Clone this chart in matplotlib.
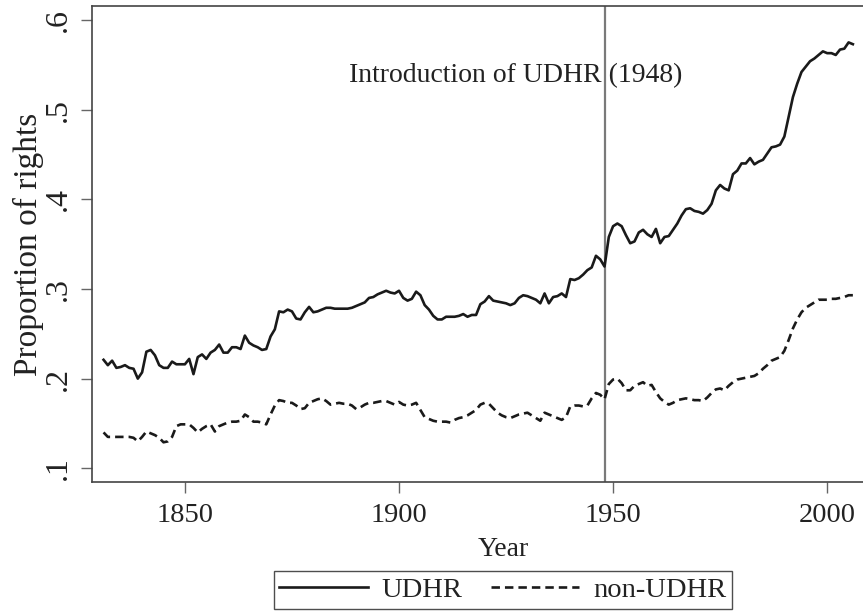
import matplotlib
matplotlib.use("Agg")
import matplotlib.pyplot as plt
from matplotlib.ticker import FuncFormatter

years = list(range(1831, 2007))

udhr = [
    0.221, 0.215, 0.220, 0.212, 0.213, 0.215, 0.212, 0.211, 0.200, 0.207,  # 1831-1840
    0.230, 0.232, 0.226, 0.215, 0.212, 0.212, 0.219, 0.216, 0.216, 0.216,  # 1841-1850
    0.222, 0.205, 0.224, 0.227, 0.222, 0.229, 0.232, 0.238, 0.229, 0.229,  # 1851-1860
    0.235, 0.235, 0.233, 0.248, 0.240, 0.237, 0.235, 0.232, 0.233, 0.247,  # 1861-1870
    0.255, 0.275, 0.274, 0.277, 0.275, 0.267, 0.266, 0.274, 0.280, 0.274,  # 1871-1880
    0.275, 0.277, 0.279, 0.279, 0.278, 0.278, 0.278, 0.278, 0.279, 0.281,  # 1881-1890
    0.283, 0.285, 0.290, 0.291, 0.294, 0.296, 0.298, 0.296, 0.295, 0.298,  # 1891-1900
    0.290, 0.287, 0.289, 0.297, 0.293, 0.282, 0.277, 0.270, 0.266, 0.266,  # 1901-1910
    0.269, 0.269, 0.269, 0.270, 0.272, 0.269, 0.271, 0.271, 0.283, 0.286,  # 1911-1920
    0.292, 0.287, 0.286, 0.285, 0.284, 0.282, 0.284, 0.290, 0.293, 0.292,  # 1921-1930
    0.290, 0.288, 0.284, 0.295, 0.284, 0.291, 0.292, 0.295, 0.291, 0.311,  # 1931-1940
    0.310, 0.312, 0.316, 0.321, 0.324, 0.337, 0.333, 0.325, 0.358, 0.370,  # 1941-1950
    0.373, 0.370, 0.360, 0.351, 0.353, 0.363, 0.366, 0.361, 0.358, 0.367,  # 1951-1960
    0.351, 0.358, 0.359, 0.366, 0.373, 0.382, 0.389, 0.390, 0.387, 0.386,  # 1961-1970
    0.384, 0.388, 0.395, 0.410, 0.416, 0.412, 0.410, 0.428, 0.432, 0.440,  # 1971-1980
    0.440, 0.446, 0.439, 0.442, 0.444, 0.451, 0.458, 0.459, 0.461, 0.470,  # 1981-1990
    0.492, 0.514, 0.529, 0.542, 0.548, 0.554, 0.557, 0.561, 0.565, 0.563,  # 1991-2000
    0.563, 0.561, 0.567, 0.568, 0.575, 0.573,                              # 2001-2006
]

non_udhr = [
    0.140, 0.135, 0.135, 0.135, 0.135, 0.135, 0.135, 0.134, 0.130, 0.135,  # 1831-1840
    0.141, 0.139, 0.137, 0.134, 0.129, 0.130, 0.135, 0.147, 0.149, 0.149,  # 1841-1850
    0.149, 0.145, 0.140, 0.144, 0.147, 0.149, 0.141, 0.147, 0.149, 0.151,  # 1851-1860
    0.152, 0.152, 0.153, 0.160, 0.157, 0.152, 0.152, 0.151, 0.149, 0.160,  # 1861-1870
    0.170, 0.176, 0.175, 0.173, 0.173, 0.170, 0.166, 0.167, 0.173, 0.175,  # 1871-1880
    0.177, 0.178, 0.175, 0.171, 0.172, 0.173, 0.172, 0.172, 0.170, 0.166,  # 1881-1890
    0.168, 0.171, 0.173, 0.173, 0.174, 0.175, 0.175, 0.173, 0.171, 0.174,  # 1891-1900
    0.171, 0.170, 0.171, 0.173, 0.165, 0.157, 0.155, 0.153, 0.152, 0.152,  # 1901-1910
    0.152, 0.151, 0.154, 0.156, 0.157, 0.159, 0.162, 0.165, 0.171, 0.173,  # 1911-1920
    0.172, 0.167, 0.162, 0.159, 0.157, 0.156, 0.158, 0.160, 0.161, 0.162,  # 1921-1930
    0.159, 0.156, 0.153, 0.162, 0.160, 0.158, 0.156, 0.154, 0.157, 0.169,  # 1931-1940
    0.170, 0.170, 0.169, 0.170, 0.178, 0.184, 0.182, 0.177, 0.194, 0.199,  # 1941-1950
    0.200, 0.195, 0.187, 0.187, 0.192, 0.194, 0.196, 0.192, 0.193, 0.185,  # 1951-1960
    0.178, 0.174, 0.171, 0.173, 0.176, 0.177, 0.178, 0.177, 0.176, 0.176,  # 1961-1970
    0.175, 0.179, 0.184, 0.188, 0.189, 0.187, 0.192, 0.196, 0.199, 0.200,  # 1971-1980
    0.201, 0.202, 0.203, 0.206, 0.211, 0.215, 0.220, 0.222, 0.224, 0.231,  # 1981-1990
    0.243, 0.256, 0.266, 0.274, 0.279, 0.282, 0.285, 0.288, 0.288, 0.288,  # 1991-2000
    0.289, 0.289, 0.290, 0.291, 0.293, 0.293,                              # 2001-2006
]

xticks = [1850, 1900, 1950, 2000]
yticks = [0.1, 0.2, 0.3, 0.4, 0.5, 0.6]
udhr_year = 1948
annotation = "Introduction of UDHR (1948)"

plt.rcParams['font.family'] = ['Liberation Serif', 'DejaVu Serif']

W, H = 863, 615
fig = plt.figure(figsize=(W / 100, H / 100), dpi=100)
left, right, top, bottom = 92, 864, 6, 482
ax = fig.add_axes([left / W, 1 - bottom / H, (right - left) / W, (bottom - top) / H])

ax.plot(years, udhr, color='#1a1a1a', lw=1.9, solid_joinstyle='round', label='UDHR')
ax.plot(years, non_udhr, color='#1a1a1a', lw=1.9, dashes=(3.2, 1.9), label='non-UDHR')
ax.axvline(udhr_year, color='#7a7a7a', lw=1.6, zorder=1)

ax.set_xlim(1828.3, 2008.6)
ax.set_ylim(0.0847, 0.6156)

ax.set_xticks(xticks)
ax.set_yticks(yticks)
ax.yaxis.set_major_formatter(FuncFormatter(lambda v, p: ('%.1f' % v).lstrip('0')))
ax.tick_params(axis='both', direction='out', length=8, width=1.0, color='#666666',
               pad=7, labelcolor='#222222')
ax.tick_params(axis='x', labelsize=20.5)
ax.tick_params(axis='y', labelsize=23, pad=6)
for lbl in ax.get_yticklabels():
    lbl.set_rotation(90)
    lbl.set_va('center')

for s in ['left', 'bottom', 'top']:
    ax.spines[s].set_color('#444444')
    ax.spines[s].set_linewidth(1.2)
ax.spines['right'].set_visible(False)

ax.set_xlabel('Year', fontsize=20, color='#222222')
ax.xaxis.set_label_coords((503 - left) / (right - left), -(549 - bottom) / (bottom - top))
ax.xaxis.label.set_va('center')
ax.set_ylabel('Proportion of rights', fontsize=24, color='#222222')
ax.yaxis.set_label_coords(-(92 - 44) / (right - left), 0.5)

ax.text(1966.1, 0.538, annotation, fontsize=20, color='#222222', ha='right', va='center')

leg = fig.legend(loc='center', bbox_to_anchor=(503 / W, 1 - 590 / H), ncol=2,
                 fontsize=20.5, frameon=True, fancybox=False, edgecolor='#222222',
                 handlelength=3.1, handletextpad=0.5, columnspacing=1.0,
                 borderpad=0.2, borderaxespad=0)
leg.get_frame().set_linewidth(1.0)
for t in leg.get_texts():
    t.set_color('#222222')

fig.savefig('out.png', dpi=100)
